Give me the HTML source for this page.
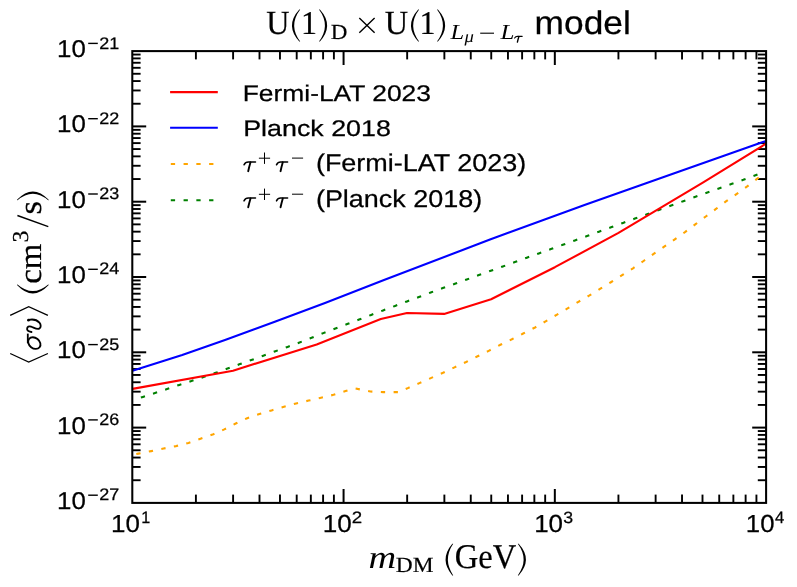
<!DOCTYPE html>
<html><head><meta charset="utf-8"><title>chart</title>
<style>html,body{margin:0;padding:0;background:#fff;}svg{display:block;will-change:transform;}text{white-space:pre;text-rendering:geometricPrecision;}</style></head>
<body><svg width="797" height="587" viewBox="0 0 797 587">
<rect x="0" y="0" width="797" height="587" fill="#fff"/>
<line x1="195.90" y1="502.90" x2="195.90" y2="494.60" stroke="#000" stroke-width="1.9"/>
<line x1="195.90" y1="51.10" x2="195.90" y2="59.40" stroke="#000" stroke-width="1.9"/>
<line x1="233.10" y1="502.90" x2="233.10" y2="494.60" stroke="#000" stroke-width="1.9"/>
<line x1="233.10" y1="51.10" x2="233.10" y2="59.40" stroke="#000" stroke-width="1.9"/>
<line x1="259.50" y1="502.90" x2="259.50" y2="494.60" stroke="#000" stroke-width="1.9"/>
<line x1="259.50" y1="51.10" x2="259.50" y2="59.40" stroke="#000" stroke-width="1.9"/>
<line x1="279.97" y1="502.90" x2="279.97" y2="494.60" stroke="#000" stroke-width="1.9"/>
<line x1="279.97" y1="51.10" x2="279.97" y2="59.40" stroke="#000" stroke-width="1.9"/>
<line x1="296.70" y1="502.90" x2="296.70" y2="494.60" stroke="#000" stroke-width="1.9"/>
<line x1="296.70" y1="51.10" x2="296.70" y2="59.40" stroke="#000" stroke-width="1.9"/>
<line x1="310.84" y1="502.90" x2="310.84" y2="494.60" stroke="#000" stroke-width="1.9"/>
<line x1="310.84" y1="51.10" x2="310.84" y2="59.40" stroke="#000" stroke-width="1.9"/>
<line x1="323.09" y1="502.90" x2="323.09" y2="494.60" stroke="#000" stroke-width="1.9"/>
<line x1="323.09" y1="51.10" x2="323.09" y2="59.40" stroke="#000" stroke-width="1.9"/>
<line x1="333.90" y1="502.90" x2="333.90" y2="494.60" stroke="#000" stroke-width="1.9"/>
<line x1="333.90" y1="51.10" x2="333.90" y2="59.40" stroke="#000" stroke-width="1.9"/>
<line x1="343.57" y1="502.90" x2="343.57" y2="489.00" stroke="#000" stroke-width="2.0"/>
<line x1="343.57" y1="51.10" x2="343.57" y2="65.00" stroke="#000" stroke-width="2.0"/>
<line x1="407.16" y1="502.90" x2="407.16" y2="494.60" stroke="#000" stroke-width="1.9"/>
<line x1="407.16" y1="51.10" x2="407.16" y2="59.40" stroke="#000" stroke-width="1.9"/>
<line x1="444.37" y1="502.90" x2="444.37" y2="494.60" stroke="#000" stroke-width="1.9"/>
<line x1="444.37" y1="51.10" x2="444.37" y2="59.40" stroke="#000" stroke-width="1.9"/>
<line x1="470.76" y1="502.90" x2="470.76" y2="494.60" stroke="#000" stroke-width="1.9"/>
<line x1="470.76" y1="51.10" x2="470.76" y2="59.40" stroke="#000" stroke-width="1.9"/>
<line x1="491.24" y1="502.90" x2="491.24" y2="494.60" stroke="#000" stroke-width="1.9"/>
<line x1="491.24" y1="51.10" x2="491.24" y2="59.40" stroke="#000" stroke-width="1.9"/>
<line x1="507.96" y1="502.90" x2="507.96" y2="494.60" stroke="#000" stroke-width="1.9"/>
<line x1="507.96" y1="51.10" x2="507.96" y2="59.40" stroke="#000" stroke-width="1.9"/>
<line x1="522.11" y1="502.90" x2="522.11" y2="494.60" stroke="#000" stroke-width="1.9"/>
<line x1="522.11" y1="51.10" x2="522.11" y2="59.40" stroke="#000" stroke-width="1.9"/>
<line x1="534.36" y1="502.90" x2="534.36" y2="494.60" stroke="#000" stroke-width="1.9"/>
<line x1="534.36" y1="51.10" x2="534.36" y2="59.40" stroke="#000" stroke-width="1.9"/>
<line x1="545.17" y1="502.90" x2="545.17" y2="494.60" stroke="#000" stroke-width="1.9"/>
<line x1="545.17" y1="51.10" x2="545.17" y2="59.40" stroke="#000" stroke-width="1.9"/>
<line x1="554.83" y1="502.90" x2="554.83" y2="489.00" stroke="#000" stroke-width="2.0"/>
<line x1="554.83" y1="51.10" x2="554.83" y2="65.00" stroke="#000" stroke-width="2.0"/>
<line x1="618.43" y1="502.90" x2="618.43" y2="494.60" stroke="#000" stroke-width="1.9"/>
<line x1="618.43" y1="51.10" x2="618.43" y2="59.40" stroke="#000" stroke-width="1.9"/>
<line x1="655.63" y1="502.90" x2="655.63" y2="494.60" stroke="#000" stroke-width="1.9"/>
<line x1="655.63" y1="51.10" x2="655.63" y2="59.40" stroke="#000" stroke-width="1.9"/>
<line x1="682.03" y1="502.90" x2="682.03" y2="494.60" stroke="#000" stroke-width="1.9"/>
<line x1="682.03" y1="51.10" x2="682.03" y2="59.40" stroke="#000" stroke-width="1.9"/>
<line x1="702.50" y1="502.90" x2="702.50" y2="494.60" stroke="#000" stroke-width="1.9"/>
<line x1="702.50" y1="51.10" x2="702.50" y2="59.40" stroke="#000" stroke-width="1.9"/>
<line x1="719.23" y1="502.90" x2="719.23" y2="494.60" stroke="#000" stroke-width="1.9"/>
<line x1="719.23" y1="51.10" x2="719.23" y2="59.40" stroke="#000" stroke-width="1.9"/>
<line x1="733.37" y1="502.90" x2="733.37" y2="494.60" stroke="#000" stroke-width="1.9"/>
<line x1="733.37" y1="51.10" x2="733.37" y2="59.40" stroke="#000" stroke-width="1.9"/>
<line x1="745.63" y1="502.90" x2="745.63" y2="494.60" stroke="#000" stroke-width="1.9"/>
<line x1="745.63" y1="51.10" x2="745.63" y2="59.40" stroke="#000" stroke-width="1.9"/>
<line x1="756.43" y1="502.90" x2="756.43" y2="494.60" stroke="#000" stroke-width="1.9"/>
<line x1="756.43" y1="51.10" x2="756.43" y2="59.40" stroke="#000" stroke-width="1.9"/>
<line x1="132.30" y1="103.73" x2="140.60" y2="103.73" stroke="#000" stroke-width="1.9"/>
<line x1="766.10" y1="103.73" x2="757.80" y2="103.73" stroke="#000" stroke-width="1.9"/>
<line x1="132.30" y1="90.47" x2="140.60" y2="90.47" stroke="#000" stroke-width="1.9"/>
<line x1="766.10" y1="90.47" x2="757.80" y2="90.47" stroke="#000" stroke-width="1.9"/>
<line x1="132.30" y1="81.06" x2="140.60" y2="81.06" stroke="#000" stroke-width="1.9"/>
<line x1="766.10" y1="81.06" x2="757.80" y2="81.06" stroke="#000" stroke-width="1.9"/>
<line x1="132.30" y1="73.77" x2="140.60" y2="73.77" stroke="#000" stroke-width="1.9"/>
<line x1="766.10" y1="73.77" x2="757.80" y2="73.77" stroke="#000" stroke-width="1.9"/>
<line x1="132.30" y1="67.81" x2="140.60" y2="67.81" stroke="#000" stroke-width="1.9"/>
<line x1="766.10" y1="67.81" x2="757.80" y2="67.81" stroke="#000" stroke-width="1.9"/>
<line x1="132.30" y1="62.76" x2="140.60" y2="62.76" stroke="#000" stroke-width="1.9"/>
<line x1="766.10" y1="62.76" x2="757.80" y2="62.76" stroke="#000" stroke-width="1.9"/>
<line x1="132.30" y1="58.40" x2="140.60" y2="58.40" stroke="#000" stroke-width="1.9"/>
<line x1="766.10" y1="58.40" x2="757.80" y2="58.40" stroke="#000" stroke-width="1.9"/>
<line x1="132.30" y1="54.55" x2="140.60" y2="54.55" stroke="#000" stroke-width="1.9"/>
<line x1="766.10" y1="54.55" x2="757.80" y2="54.55" stroke="#000" stroke-width="1.9"/>
<line x1="132.30" y1="126.40" x2="146.20" y2="126.40" stroke="#000" stroke-width="2.0"/>
<line x1="766.10" y1="126.40" x2="752.20" y2="126.40" stroke="#000" stroke-width="2.0"/>
<line x1="132.30" y1="179.03" x2="140.60" y2="179.03" stroke="#000" stroke-width="1.9"/>
<line x1="766.10" y1="179.03" x2="757.80" y2="179.03" stroke="#000" stroke-width="1.9"/>
<line x1="132.30" y1="165.77" x2="140.60" y2="165.77" stroke="#000" stroke-width="1.9"/>
<line x1="766.10" y1="165.77" x2="757.80" y2="165.77" stroke="#000" stroke-width="1.9"/>
<line x1="132.30" y1="156.36" x2="140.60" y2="156.36" stroke="#000" stroke-width="1.9"/>
<line x1="766.10" y1="156.36" x2="757.80" y2="156.36" stroke="#000" stroke-width="1.9"/>
<line x1="132.30" y1="149.07" x2="140.60" y2="149.07" stroke="#000" stroke-width="1.9"/>
<line x1="766.10" y1="149.07" x2="757.80" y2="149.07" stroke="#000" stroke-width="1.9"/>
<line x1="132.30" y1="143.11" x2="140.60" y2="143.11" stroke="#000" stroke-width="1.9"/>
<line x1="766.10" y1="143.11" x2="757.80" y2="143.11" stroke="#000" stroke-width="1.9"/>
<line x1="132.30" y1="138.06" x2="140.60" y2="138.06" stroke="#000" stroke-width="1.9"/>
<line x1="766.10" y1="138.06" x2="757.80" y2="138.06" stroke="#000" stroke-width="1.9"/>
<line x1="132.30" y1="133.70" x2="140.60" y2="133.70" stroke="#000" stroke-width="1.9"/>
<line x1="766.10" y1="133.70" x2="757.80" y2="133.70" stroke="#000" stroke-width="1.9"/>
<line x1="132.30" y1="129.85" x2="140.60" y2="129.85" stroke="#000" stroke-width="1.9"/>
<line x1="766.10" y1="129.85" x2="757.80" y2="129.85" stroke="#000" stroke-width="1.9"/>
<line x1="132.30" y1="201.70" x2="146.20" y2="201.70" stroke="#000" stroke-width="2.0"/>
<line x1="766.10" y1="201.70" x2="752.20" y2="201.70" stroke="#000" stroke-width="2.0"/>
<line x1="132.30" y1="254.33" x2="140.60" y2="254.33" stroke="#000" stroke-width="1.9"/>
<line x1="766.10" y1="254.33" x2="757.80" y2="254.33" stroke="#000" stroke-width="1.9"/>
<line x1="132.30" y1="241.07" x2="140.60" y2="241.07" stroke="#000" stroke-width="1.9"/>
<line x1="766.10" y1="241.07" x2="757.80" y2="241.07" stroke="#000" stroke-width="1.9"/>
<line x1="132.30" y1="231.66" x2="140.60" y2="231.66" stroke="#000" stroke-width="1.9"/>
<line x1="766.10" y1="231.66" x2="757.80" y2="231.66" stroke="#000" stroke-width="1.9"/>
<line x1="132.30" y1="224.37" x2="140.60" y2="224.37" stroke="#000" stroke-width="1.9"/>
<line x1="766.10" y1="224.37" x2="757.80" y2="224.37" stroke="#000" stroke-width="1.9"/>
<line x1="132.30" y1="218.41" x2="140.60" y2="218.41" stroke="#000" stroke-width="1.9"/>
<line x1="766.10" y1="218.41" x2="757.80" y2="218.41" stroke="#000" stroke-width="1.9"/>
<line x1="132.30" y1="213.36" x2="140.60" y2="213.36" stroke="#000" stroke-width="1.9"/>
<line x1="766.10" y1="213.36" x2="757.80" y2="213.36" stroke="#000" stroke-width="1.9"/>
<line x1="132.30" y1="209.00" x2="140.60" y2="209.00" stroke="#000" stroke-width="1.9"/>
<line x1="766.10" y1="209.00" x2="757.80" y2="209.00" stroke="#000" stroke-width="1.9"/>
<line x1="132.30" y1="205.15" x2="140.60" y2="205.15" stroke="#000" stroke-width="1.9"/>
<line x1="766.10" y1="205.15" x2="757.80" y2="205.15" stroke="#000" stroke-width="1.9"/>
<line x1="132.30" y1="277.00" x2="146.20" y2="277.00" stroke="#000" stroke-width="2.0"/>
<line x1="766.10" y1="277.00" x2="752.20" y2="277.00" stroke="#000" stroke-width="2.0"/>
<line x1="132.30" y1="329.63" x2="140.60" y2="329.63" stroke="#000" stroke-width="1.9"/>
<line x1="766.10" y1="329.63" x2="757.80" y2="329.63" stroke="#000" stroke-width="1.9"/>
<line x1="132.30" y1="316.37" x2="140.60" y2="316.37" stroke="#000" stroke-width="1.9"/>
<line x1="766.10" y1="316.37" x2="757.80" y2="316.37" stroke="#000" stroke-width="1.9"/>
<line x1="132.30" y1="306.96" x2="140.60" y2="306.96" stroke="#000" stroke-width="1.9"/>
<line x1="766.10" y1="306.96" x2="757.80" y2="306.96" stroke="#000" stroke-width="1.9"/>
<line x1="132.30" y1="299.67" x2="140.60" y2="299.67" stroke="#000" stroke-width="1.9"/>
<line x1="766.10" y1="299.67" x2="757.80" y2="299.67" stroke="#000" stroke-width="1.9"/>
<line x1="132.30" y1="293.71" x2="140.60" y2="293.71" stroke="#000" stroke-width="1.9"/>
<line x1="766.10" y1="293.71" x2="757.80" y2="293.71" stroke="#000" stroke-width="1.9"/>
<line x1="132.30" y1="288.66" x2="140.60" y2="288.66" stroke="#000" stroke-width="1.9"/>
<line x1="766.10" y1="288.66" x2="757.80" y2="288.66" stroke="#000" stroke-width="1.9"/>
<line x1="132.30" y1="284.30" x2="140.60" y2="284.30" stroke="#000" stroke-width="1.9"/>
<line x1="766.10" y1="284.30" x2="757.80" y2="284.30" stroke="#000" stroke-width="1.9"/>
<line x1="132.30" y1="280.45" x2="140.60" y2="280.45" stroke="#000" stroke-width="1.9"/>
<line x1="766.10" y1="280.45" x2="757.80" y2="280.45" stroke="#000" stroke-width="1.9"/>
<line x1="132.30" y1="352.30" x2="146.20" y2="352.30" stroke="#000" stroke-width="2.0"/>
<line x1="766.10" y1="352.30" x2="752.20" y2="352.30" stroke="#000" stroke-width="2.0"/>
<line x1="132.30" y1="404.93" x2="140.60" y2="404.93" stroke="#000" stroke-width="1.9"/>
<line x1="766.10" y1="404.93" x2="757.80" y2="404.93" stroke="#000" stroke-width="1.9"/>
<line x1="132.30" y1="391.67" x2="140.60" y2="391.67" stroke="#000" stroke-width="1.9"/>
<line x1="766.10" y1="391.67" x2="757.80" y2="391.67" stroke="#000" stroke-width="1.9"/>
<line x1="132.30" y1="382.26" x2="140.60" y2="382.26" stroke="#000" stroke-width="1.9"/>
<line x1="766.10" y1="382.26" x2="757.80" y2="382.26" stroke="#000" stroke-width="1.9"/>
<line x1="132.30" y1="374.97" x2="140.60" y2="374.97" stroke="#000" stroke-width="1.9"/>
<line x1="766.10" y1="374.97" x2="757.80" y2="374.97" stroke="#000" stroke-width="1.9"/>
<line x1="132.30" y1="369.01" x2="140.60" y2="369.01" stroke="#000" stroke-width="1.9"/>
<line x1="766.10" y1="369.01" x2="757.80" y2="369.01" stroke="#000" stroke-width="1.9"/>
<line x1="132.30" y1="363.96" x2="140.60" y2="363.96" stroke="#000" stroke-width="1.9"/>
<line x1="766.10" y1="363.96" x2="757.80" y2="363.96" stroke="#000" stroke-width="1.9"/>
<line x1="132.30" y1="359.60" x2="140.60" y2="359.60" stroke="#000" stroke-width="1.9"/>
<line x1="766.10" y1="359.60" x2="757.80" y2="359.60" stroke="#000" stroke-width="1.9"/>
<line x1="132.30" y1="355.75" x2="140.60" y2="355.75" stroke="#000" stroke-width="1.9"/>
<line x1="766.10" y1="355.75" x2="757.80" y2="355.75" stroke="#000" stroke-width="1.9"/>
<line x1="132.30" y1="427.60" x2="146.20" y2="427.60" stroke="#000" stroke-width="2.0"/>
<line x1="766.10" y1="427.60" x2="752.20" y2="427.60" stroke="#000" stroke-width="2.0"/>
<line x1="132.30" y1="480.23" x2="140.60" y2="480.23" stroke="#000" stroke-width="1.9"/>
<line x1="766.10" y1="480.23" x2="757.80" y2="480.23" stroke="#000" stroke-width="1.9"/>
<line x1="132.30" y1="466.97" x2="140.60" y2="466.97" stroke="#000" stroke-width="1.9"/>
<line x1="766.10" y1="466.97" x2="757.80" y2="466.97" stroke="#000" stroke-width="1.9"/>
<line x1="132.30" y1="457.56" x2="140.60" y2="457.56" stroke="#000" stroke-width="1.9"/>
<line x1="766.10" y1="457.56" x2="757.80" y2="457.56" stroke="#000" stroke-width="1.9"/>
<line x1="132.30" y1="450.27" x2="140.60" y2="450.27" stroke="#000" stroke-width="1.9"/>
<line x1="766.10" y1="450.27" x2="757.80" y2="450.27" stroke="#000" stroke-width="1.9"/>
<line x1="132.30" y1="444.31" x2="140.60" y2="444.31" stroke="#000" stroke-width="1.9"/>
<line x1="766.10" y1="444.31" x2="757.80" y2="444.31" stroke="#000" stroke-width="1.9"/>
<line x1="132.30" y1="439.26" x2="140.60" y2="439.26" stroke="#000" stroke-width="1.9"/>
<line x1="766.10" y1="439.26" x2="757.80" y2="439.26" stroke="#000" stroke-width="1.9"/>
<line x1="132.30" y1="434.90" x2="140.60" y2="434.90" stroke="#000" stroke-width="1.9"/>
<line x1="766.10" y1="434.90" x2="757.80" y2="434.90" stroke="#000" stroke-width="1.9"/>
<line x1="132.30" y1="431.05" x2="140.60" y2="431.05" stroke="#000" stroke-width="1.9"/>
<line x1="766.10" y1="431.05" x2="757.80" y2="431.05" stroke="#000" stroke-width="1.9"/>
<clipPath id="c"><rect x="132.3" y="51.1" width="633.8" height="451.8"/></clipPath>
<g clip-path="url(#c)">
<polyline points="132.50,454.80 138.40,453.60 151.30,451.10 163.60,448.50 176.20,446.10 188.50,442.90 200.50,438.70 212.60,434.60 224.30,429.40 235.70,423.50 247.20,418.20 259.40,414.10 271.60,410.40 284.00,406.80 296.10,403.40 308.60,400.60 321.00,397.80 333.50,394.80 345.60,391.00 354.30,388.30 370.40,391.50 383.20,392.10 399.00,392.10 407.90,388.10 419.40,383.10 431.30,377.90 443.00,372.80 454.50,367.40 466.10,362.00 477.60,356.30 488.70,350.85 500.40,344.80 511.90,339.30 523.20,333.50 534.50,327.80 545.60,321.30 556.60,314.80 567.60,308.40 578.40,301.85 589.50,295.40 600.40,288.70 611.30,282.00 622.10,275.20 633.00,268.30 643.60,261.00 654.00,253.60 664.55,246.45 674.80,239.30 685.30,231.90 695.60,224.10 705.80,216.50 716.00,208.90 726.30,201.20 736.80,193.80 747.20,186.40 757.00,178.90 766.10,172.10" fill="none" stroke="#ffa500" stroke-width="2.1" stroke-linejoin="round" stroke-dasharray="4.3 8.466" stroke-dashoffset="8.89"/>
<polyline points="132.50,400.40 142.90,396.90 155.00,393.00 167.10,389.00 179.30,384.90 191.40,381.00 203.50,377.00 215.80,372.80 227.50,368.60 239.30,364.30 251.40,360.00 263.30,355.70 275.40,351.20 287.60,346.90 299.50,342.50 311.60,337.80 323.30,333.10 335.40,328.50 347.20,324.10 359.10,319.60 371.20,314.90 383.10,310.40 395.10,305.90 407.00,301.40 418.90,297.00 430.70,292.50 442.80,288.10 454.90,283.80 466.80,279.50 478.90,275.00 490.80,270.75 502.80,266.50 514.90,262.10 526.80,257.70 538.80,253.40 550.90,249.10 562.80,244.80 574.90,240.40 587.05,236.00 598.90,231.70 611.00,227.30 623.00,222.90 634.90,218.60 647.00,214.30 658.90,210.00 671.20,205.50 683.20,201.20 695.50,196.80 707.40,192.50 719.50,188.20 731.30,184.00 743.30,179.80 755.50,175.20 766.10,171.00" fill="none" stroke="#008000" stroke-width="2.1" stroke-linejoin="round" stroke-dasharray="4.3 8.475" stroke-dashoffset="3.95"/>
<polyline points="132.50,388.90 233.00,370.70 316.70,344.40 380.80,319.00 407.00,313.00 444.10,313.90 491.10,299.25 554.90,267.20 618.50,232.90 702.40,182.80 766.10,143.60" fill="none" stroke="#ff0000" stroke-width="2.1" stroke-linejoin="round"/>
<polyline points="132.50,370.70 182.20,355.00 225.00,340.10 274.80,321.80 325.00,302.90 384.00,280.00 462.60,250.00 490.00,239.40 584.50,205.00 680.00,171.30 766.10,140.90" fill="none" stroke="#0000ff" stroke-width="2.1" stroke-linejoin="round"/>
</g>
<rect x="132.3" y="51.1" width="633.80" height="451.80" fill="none" stroke="#000" stroke-width="2.05"/>
<line x1="170.1" y1="92.1" x2="217.8" y2="92.1" stroke="#ff0000" stroke-width="2.1"/>
<line x1="170.1" y1="127.7" x2="217.8" y2="127.7" stroke="#0000ff" stroke-width="2.1"/>
<line x1="170.8" y1="164.0" x2="217.8" y2="164.0" stroke="#ffa500" stroke-width="2.1" stroke-dasharray="4.3 8.47"/>
<line x1="170.8" y1="200.2" x2="217.8" y2="200.2" stroke="#008000" stroke-width="2.1" stroke-dasharray="4.3 8.47"/>
<path d="M244.00,164.80Q245.40,162.00 248.30,162.00L255.50,162.00" stroke="#000" stroke-width="1.5" fill="none" stroke-linecap="round"/>
<path d="M250.50,162.30Q249.10,167.10 248.20,171.20" stroke="#000" stroke-width="1.88" fill="none" stroke-linecap="round"/>
<path d="M276.48,164.80Q277.84,162.00 280.65,162.00L287.62,162.00" stroke="#000" stroke-width="1.5" fill="none" stroke-linecap="round"/>
<path d="M282.78,162.30Q281.42,167.10 280.55,171.20" stroke="#000" stroke-width="1.88" fill="none" stroke-linecap="round"/>
<path d="M258.9,158.2H270.1M264.5,152.5V163.89999999999998" stroke="#000" stroke-width="1.0" fill="none"/>
<path d="M292.0,158.1H303.1" stroke="#000" stroke-width="1.0" fill="none"/>
<path d="M244.00,200.90Q245.40,198.10 248.30,198.10L255.50,198.10" stroke="#000" stroke-width="1.5" fill="none" stroke-linecap="round"/>
<path d="M250.50,198.40Q249.10,203.20 248.20,207.30" stroke="#000" stroke-width="1.88" fill="none" stroke-linecap="round"/>
<path d="M276.48,200.90Q277.84,198.10 280.65,198.10L287.62,198.10" stroke="#000" stroke-width="1.5" fill="none" stroke-linecap="round"/>
<path d="M282.78,198.40Q281.42,203.20 280.55,207.30" stroke="#000" stroke-width="1.88" fill="none" stroke-linecap="round"/>
<path d="M258.9,194.29999999999998H270.1M264.5,188.6V199.99999999999997" stroke="#000" stroke-width="1.0" fill="none"/>
<path d="M292.0,194.2H303.1" stroke="#000" stroke-width="1.0" fill="none"/>
<path d="M514.63,38.12Q515.55,36.36 517.46,36.36L522.20,36.36" stroke="#000" stroke-width="1.1" fill="none" stroke-linecap="round"/>
<path d="M518.91,36.55Q517.99,39.56 517.40,42.14" stroke="#000" stroke-width="1.38" fill="none" stroke-linecap="round"/>
<path d="M299.30,9.40Q284.70,25.40 299.30,41.40L300.20,41.40Q288.20,25.40 300.20,9.40Z" fill="#000"/>
<path d="M319.90,9.40Q334.30,25.40 319.90,41.40L319.00,41.40Q330.80,25.40 319.00,9.40Z" fill="#000"/>
<path d="M418.20,9.40Q403.80,25.40 418.20,41.40L419.10,41.40Q407.30,25.40 419.10,9.40Z" fill="#000"/>
<path d="M437.90,9.40Q452.30,25.40 437.90,41.40L437.00,41.40Q448.80,25.40 437.00,9.40Z" fill="#000"/>
<path d="M359.3,18.1L374.6,32.7M374.6,18.1L359.3,32.7" stroke="#000" stroke-width="1.4" fill="none"/>
<path d="M480.2,33.2H494" stroke="#000" stroke-width="1.1" fill="none"/>
<path d="M88.2,43.40H97.8" stroke="#000" stroke-width="1.4"/>
<path d="M88.2,118.70H97.8" stroke="#000" stroke-width="1.4"/>
<path d="M88.2,194.00H97.8" stroke="#000" stroke-width="1.4"/>
<path d="M88.2,269.30H97.8" stroke="#000" stroke-width="1.4"/>
<path d="M88.2,344.60H97.8" stroke="#000" stroke-width="1.4"/>
<path d="M88.2,419.90H97.8" stroke="#000" stroke-width="1.4"/>
<path d="M88.2,495.20H97.8" stroke="#000" stroke-width="1.4"/>
<path d="M452.30,543.80Q438.90,559.60 452.30,575.40L453.20,575.40Q442.60,559.60 453.20,543.80Z" fill="#000"/>
<path d="M518.70,543.80Q533.10,559.60 518.70,575.40L517.80,575.40Q529.40,559.60 517.80,543.80Z" fill="#000"/>
<path d="M17.20,199.60Q32.85,183.20 48.50,199.60L48.50,200.50Q32.85,186.90 17.20,200.50Z" fill="#000"/>
<path d="M48.3,226.6L17.4,215.5" stroke="#000" stroke-width="1.4" fill="none"/>
<path d="M17.20,285.20Q32.85,301.60 48.50,285.20L48.50,284.30Q32.85,297.90 17.20,284.30Z" fill="#000"/>
<path d="M31.5,332.0C29,331.4 27.1,330.4 27.1,328.9C27.1,326.6 29,325.9 31,326.6C34,327.6 37,329.6 39.2,328.6C41.3,327.6 41.0,324.5 39.4,322.7C37.4,320.4 33,319.0 28.6,319.9" stroke="#000" stroke-width="1.85" fill="none" stroke-linecap="round"/>
<circle cx="28.5" cy="320.2" r="1.35" fill="#000"/>
<path d="M27.8,333.6L27.8,343.2" stroke="#000" stroke-width="1.8" fill="none"/>
<ellipse cx="34.3" cy="343.1" rx="6.7" ry="5.2" transform="rotate(38 34.3 343.1)" stroke="#000" stroke-width="1.9" fill="none"/>
<path d="M47.9,315.4L28.7,306.7L10.2,315.4" stroke="#000" stroke-width="1.3" fill="none"/>
<path d="M47.9,353.5L28.7,362L10.2,353.5" stroke="#000" stroke-width="1.3" fill="none"/>
<text transform="translate(242.72,100.67) scale(1.1689,1)" font-family="'Liberation Sans', sans-serif" font-style="normal" font-size="22.59" fill="#000" stroke="#000" stroke-width="0.25">Fermi-LAT 2023</text>
<text transform="translate(243.19,135.77) scale(1.1881,1)" font-family="'Liberation Sans', sans-serif" font-style="normal" font-size="22.59" fill="#000" stroke="#000" stroke-width="0.25">Planck 2018</text>
<text transform="translate(315.92,170.77) scale(1.1123,1)" font-family="'Liberation Sans', sans-serif" font-style="normal" font-size="24.24" fill="#000" stroke="#000" stroke-width="0.25">(Fermi-LAT 2023)</text>
<text transform="translate(315.92,206.87) scale(1.1121,1)" font-family="'Liberation Sans', sans-serif" font-style="normal" font-size="24.24" fill="#000" stroke="#000" stroke-width="0.25">(Planck 2018)</text>
<text transform="translate(266.26,34.16) scale(0.9485,1)" font-family="'Liberation Serif', serif" font-style="normal" font-size="33.98" fill="#000" stroke="#000" stroke-width="0.2">U</text>
<text transform="translate(301.10,33.90) scale(0.9617,1)" font-family="'Liberation Serif', serif" font-style="normal" font-size="33.33" fill="#000" stroke="#000" stroke-width="0.2">1</text>
<text transform="translate(330.87,38.55) scale(1.0750,1)" font-family="'Liberation Serif', serif" font-style="normal" font-size="21.44" fill="#000" stroke="#000" stroke-width="0.2">D</text>
<text transform="translate(384.65,34.16) scale(0.9528,1)" font-family="'Liberation Serif', serif" font-style="normal" font-size="33.98" fill="#000" stroke="#000" stroke-width="0.2">U</text>
<text transform="translate(419.50,33.90) scale(0.9617,1)" font-family="'Liberation Serif', serif" font-style="normal" font-size="33.33" fill="#000" stroke="#000" stroke-width="0.2">1</text>
<text transform="translate(450.41,38.60) scale(1.1380,1)" font-family="'Liberation Serif', serif" font-style="italic" font-size="21.53" fill="#000">L</text>
<text transform="translate(464.50,41.60) scale(1.1184,1)" font-family="'Liberation Serif', serif" font-style="italic" font-size="16.74" fill="#000">μ</text>
<text transform="translate(500.61,38.60) scale(1.1647,1)" font-family="'Liberation Serif', serif" font-style="italic" font-size="21.53" fill="#000">L</text>
<text transform="translate(534.51,33.57) scale(1.0786,1)" font-family="'Liberation Sans', sans-serif" font-style="normal" font-size="32.79" fill="#000" stroke="#000" stroke-width="0.25">model</text>
<text transform="translate(57.06,57.16) scale(1.0639,1)" font-family="'Liberation Sans', sans-serif" font-style="normal" font-size="24.31" fill="#000" stroke="#000" stroke-width="0.25">10</text>
<text transform="translate(99.30,48.50) scale(1.0832,1)" font-family="'Liberation Sans', sans-serif" font-style="normal" font-size="16.63" fill="#000" stroke="#000" stroke-width="0.25">21</text>
<text transform="translate(57.06,132.46) scale(1.0639,1)" font-family="'Liberation Sans', sans-serif" font-style="normal" font-size="24.31" fill="#000" stroke="#000" stroke-width="0.25">10</text>
<text transform="translate(99.30,123.80) scale(1.0832,1)" font-family="'Liberation Sans', sans-serif" font-style="normal" font-size="16.63" fill="#000" stroke="#000" stroke-width="0.25">22</text>
<text transform="translate(57.06,207.76) scale(1.0639,1)" font-family="'Liberation Sans', sans-serif" font-style="normal" font-size="24.31" fill="#000" stroke="#000" stroke-width="0.25">10</text>
<text transform="translate(99.30,199.10) scale(1.0832,1)" font-family="'Liberation Sans', sans-serif" font-style="normal" font-size="16.63" fill="#000" stroke="#000" stroke-width="0.25">23</text>
<text transform="translate(57.06,283.06) scale(1.0639,1)" font-family="'Liberation Sans', sans-serif" font-style="normal" font-size="24.31" fill="#000" stroke="#000" stroke-width="0.25">10</text>
<text transform="translate(99.30,274.40) scale(1.0832,1)" font-family="'Liberation Sans', sans-serif" font-style="normal" font-size="16.63" fill="#000" stroke="#000" stroke-width="0.25">24</text>
<text transform="translate(57.06,358.36) scale(1.0639,1)" font-family="'Liberation Sans', sans-serif" font-style="normal" font-size="24.31" fill="#000" stroke="#000" stroke-width="0.25">10</text>
<text transform="translate(99.30,349.70) scale(1.0832,1)" font-family="'Liberation Sans', sans-serif" font-style="normal" font-size="16.63" fill="#000" stroke="#000" stroke-width="0.25">25</text>
<text transform="translate(57.06,433.66) scale(1.0639,1)" font-family="'Liberation Sans', sans-serif" font-style="normal" font-size="24.31" fill="#000" stroke="#000" stroke-width="0.25">10</text>
<text transform="translate(99.30,425.00) scale(1.0832,1)" font-family="'Liberation Sans', sans-serif" font-style="normal" font-size="16.63" fill="#000" stroke="#000" stroke-width="0.25">26</text>
<text transform="translate(57.06,508.96) scale(1.0639,1)" font-family="'Liberation Sans', sans-serif" font-style="normal" font-size="24.31" fill="#000" stroke="#000" stroke-width="0.25">10</text>
<text transform="translate(99.30,500.30) scale(1.0832,1)" font-family="'Liberation Sans', sans-serif" font-style="normal" font-size="16.63" fill="#000" stroke="#000" stroke-width="0.25">27</text>
<text transform="translate(111.05,531.65) scale(1.0497,1)" font-family="'Liberation Sans', sans-serif" font-style="normal" font-size="24.73" fill="#000" stroke="#000" stroke-width="0.25">10</text>
<text transform="translate(141.19,522.70) scale(0.9676,1)" font-family="'Liberation Sans', sans-serif" font-style="normal" font-size="16.73" fill="#000" stroke="#000" stroke-width="0.25">1</text>
<text transform="translate(322.71,531.65) scale(1.0538,1)" font-family="'Liberation Sans', sans-serif" font-style="normal" font-size="24.73" fill="#000" stroke="#000" stroke-width="0.25">10</text>
<text transform="translate(351.63,522.70) scale(1.1331,1)" font-family="'Liberation Sans', sans-serif" font-style="normal" font-size="16.49" fill="#000" stroke="#000" stroke-width="0.25">2</text>
<text transform="translate(534.19,531.65) scale(1.0497,1)" font-family="'Liberation Sans', sans-serif" font-style="normal" font-size="24.73" fill="#000" stroke="#000" stroke-width="0.25">10</text>
<text transform="translate(563.37,522.54) scale(1.0880,1)" font-family="'Liberation Sans', sans-serif" font-style="normal" font-size="16.25" fill="#000" stroke="#000" stroke-width="0.25">3</text>
<text transform="translate(745.87,531.65) scale(1.0416,1)" font-family="'Liberation Sans', sans-serif" font-style="normal" font-size="24.73" fill="#000" stroke="#000" stroke-width="0.25">10</text>
<text transform="translate(775.03,522.60) scale(1.0031,1)" font-family="'Liberation Sans', sans-serif" font-style="normal" font-size="16.58" fill="#000" stroke="#000" stroke-width="0.25">4</text>
<text transform="translate(368.46,568.00) scale(1.1841,1)" font-family="'Liberation Serif', serif" font-style="italic" font-size="32.34" fill="#000">m</text>
<text transform="translate(395.76,572.45) scale(1.0763,1)" font-family="'Liberation Serif', serif" font-style="normal" font-size="21.75" fill="#000" stroke="#000" stroke-width="0.2">DM</text>
<text transform="translate(454.80,568.38) scale(0.9395,1)" font-family="'Liberation Serif', serif" font-style="normal" font-size="34.69" fill="#000" stroke="#000" stroke-width="0.2">GeV</text>
<text transform="translate(41.38,214.50) rotate(-90) scale(1.0802,1)" font-family="'Liberation Serif', serif" font-style="normal" font-size="32.29" fill="#000" stroke="#000" stroke-width="0.2">s</text>
<text transform="translate(28.47,242.53) rotate(-90) scale(1.0442,1)" font-family="'Liberation Serif', serif" font-style="normal" font-size="22.75" fill="#000" stroke="#000" stroke-width="0.2">3</text>
<text transform="translate(41.38,283.73) rotate(-90) scale(1.0190,1)" font-family="'Liberation Serif', serif" font-style="normal" font-size="32.29" fill="#000" stroke="#000" stroke-width="0.2">cm</text>
</svg></body></html>
